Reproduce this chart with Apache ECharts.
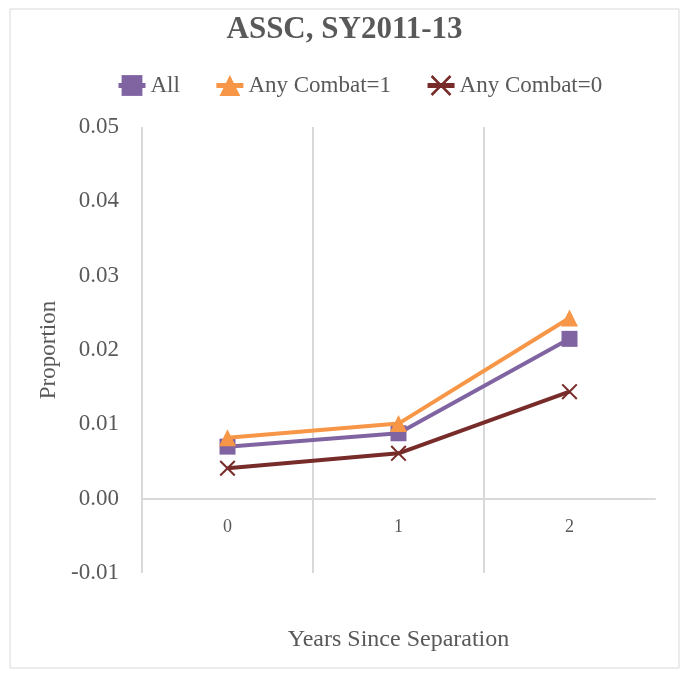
<!DOCTYPE html>
<html>
<head>
<meta charset="utf-8">
<script src="https://cdn.jsdelivr.net/npm/echarts@6/dist/echarts.min.js"></script>
<style>
html,body{margin:0;padding:0;background:#fff;}
#chart{width:689px;height:675px;}
</style>
</head>
<body>
<div id="chart"></div>
<script>
var categories = ['0', '1', '2'];
var seriesNames = ['All', 'Any Combat=1', 'Any Combat=0'];
var allValues = [0.0070, 0.0088, 0.0215];
var combat1Values = [0.0082, 0.0101, 0.0243];
var combat0Values = [0.0041, 0.0061, 0.0144];
var yTicks = [-0.01, 0.00, 0.01, 0.02, 0.03, 0.04, 0.05];

var crossPath = 'path://M0,0.9 L0.9,0 L5,4.1 L9.1,0 L10,0.9 L5.9,5 L10,9.1 L9.1,10 L5,5.9 L0.9,10 L0,9.1 L4.1,5 Z';
var font = 'Liberation Serif';
var txt = '#595959';
var gridCol = '#d9d9d9';

var chart = echarts.init(document.getElementById('chart'), null, {renderer: 'canvas'});
chart.setOption({
  backgroundColor: '#ffffff',
  textStyle: {fontFamily: font, color: txt},
  graphic: [{
    type: 'rect', silent: true, z: -1,
    shape: {x: 10, y: 9, width: 669, height: 659},
    style: {fill: 'none', stroke: gridCol, lineWidth: 1}
  }],
  title: {
    text: 'ASSC, SY2011-13',
    left: 'center', top: 9,
    textStyle: {fontFamily: font, fontSize: 31, fontWeight: 'bold', color: txt}
  },
  legend: {
    top: 69, left: 111,
    itemWidth: 27, itemHeight: 26, itemGap: 34,
    lineStyle: {width: 5},
    textStyle: {fontFamily: font, fontSize: 23, color: txt},
    data: seriesNames
  },
  grid: {left: 142, right: 34, top: 127, bottom: 102, containLabel: false, outerBoundsMode: 'none'},
  xAxis: {
    type: 'category',
    data: categories,
    boundaryGap: true,
    name: 'Years Since Separation',
    nameLocation: 'middle',
    nameGap: 55,
    nameTextStyle: {fontFamily: font, fontSize: 24, color: txt},
    axisLine: {show: true, onZero: true, lineStyle: {color: gridCol, width: 2}},
    axisTick: {show: false},
    axisLabel: {fontFamily: font, fontSize: 18, color: txt, margin: -55},
    splitLine: {show: true, showMinLine: true, showMaxLine: false, lineStyle: {color: gridCol, width: 2}}
  },
  yAxis: {
    type: 'value',
    min: yTicks[0], max: yTicks[yTicks.length - 1], interval: 0.01,
    name: 'Proportion',
    nameLocation: 'middle',
    nameRotate: 90,
    nameGap: 77,
    nameTextStyle: {fontFamily: font, fontSize: 23, color: txt},
    axisLine: {show: false},
    axisTick: {show: false},
    splitLine: {show: false},
    axisLabel: {
      fontFamily: font, fontSize: 23, color: txt, margin: 23,
      formatter: function (v) { return v.toFixed(2); }
    }
  },
  series: [
    {
      name: seriesNames[0], type: 'line', data: allValues,
      symbol: 'rect', symbolSize: 16,
      itemStyle: {color: '#8064a2'},
      lineStyle: {color: '#8064a2', width: 4},
      z: 2
    },
    {
      name: seriesNames[1], type: 'line', data: combat1Values,
      symbol: 'triangle', symbolSize: [17, 17],
      itemStyle: {color: '#f79646'},
      lineStyle: {color: '#f79646', width: 4},
      z: 3
    },
    {
      name: seriesNames[2], type: 'line', data: combat0Values,
      symbol: crossPath, symbolSize: 16,
      itemStyle: {color: '#772c2a'},
      lineStyle: {color: '#772c2a', width: 4},
      z: 2
    }
  ],
  animation: false
});
</script>
</body>
</html>
